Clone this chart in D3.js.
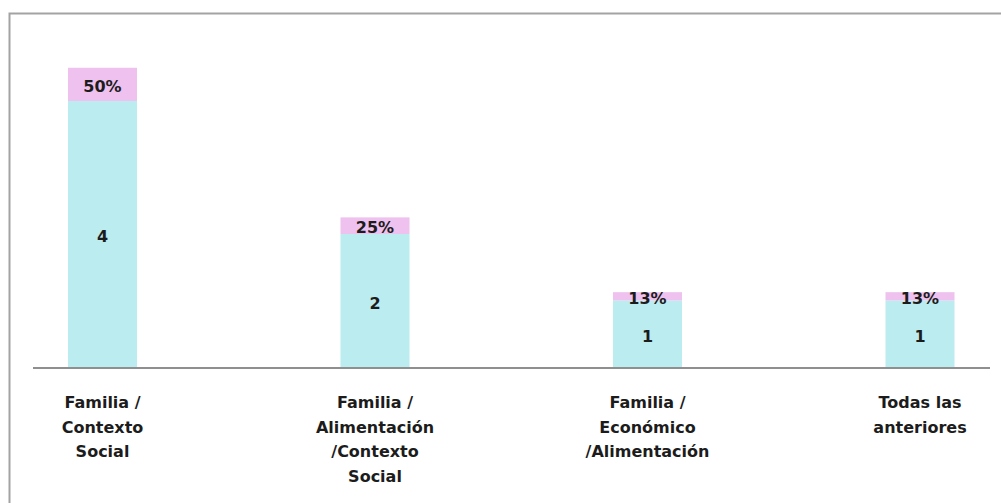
<!DOCTYPE html>
<html>
<head>
<meta charset="utf-8">
<script src="https://cdn.jsdelivr.net/npm/d3@7"></script>
<style>
  html, body { margin: 0; padding: 0; background: #ffffff; }
  svg { display: block; }
  text { font-family: "DejaVu Sans", Verdana, sans-serif; font-weight: bold; fill: #1c1c1c; }
</style>
</head>
<body>
<svg id="chart" width="1001" height="503"></svg>
<script>
// Categories (each label split into its display lines)
const categories = [
  "Familia / Contexto Social",
  "Familia / Alimentación /Contexto Social",
  "Familia / Económico /Alimentación",
  "Todas las anteriores"
];
const categoryLines = [
  ["Familia /", "Contexto", "Social"],
  ["Familia /", "Alimentación", "/Contexto", "Social"],
  ["Familia /", "Económico", "/Alimentación"],
  ["Todas las", "anteriores"]
];
// Stacked series: count of answers and share of the total
const counts = [4, 2, 1, 1];
const shares = [0.50, 0.25, 0.125, 0.125];
const shareLabels = ["50%", "25%", "13%", "13%"];

const svg = d3.select("#chart");
const W = 1001, H = 503;

// Outer frame
svg.append("rect")
  .attr("x", 9.5).attr("y", 13.5)
  .attr("width", W + 20).attr("height", H + 20)
  .attr("fill", "none")
  .attr("stroke", "#a3a3a3")
  .attr("stroke-width", 2);

const x = d3.scalePoint().domain(categories).range([102.5, 920]);
const barW = 69;
const y = d3.scaleLinear().domain([0, 4]).range([367, 101]);

const data = categories.map((c, i) => ({
  cat: c, count: counts[i], share: shares[i], label: shareLabels[i], lines: categoryLines[i]
}));

const g = svg.append("g");

// Count segment
g.selectAll("rect.count").data(data).join("rect")
  .attr("class", "count")
  .attr("x", d => x(d.cat) - barW / 2)
  .attr("width", barW)
  .attr("y", d => y(d.count))
  .attr("height", d => y(0) - y(d.count))
  .attr("fill", "#bbecf0");

// Share segment stacked on top
g.selectAll("rect.share").data(data).join("rect")
  .attr("class", "share")
  .attr("x", d => x(d.cat) - barW / 2)
  .attr("width", barW)
  .attr("y", d => y(d.count + d.share))
  .attr("height", d => y(d.count) - y(d.count + d.share))
  .attr("fill", "#eec1ee");

// Category axis line
svg.append("line")
  .attr("x1", 33).attr("x2", 990)
  .attr("y1", 368).attr("y2", 368)
  .attr("stroke", "#8f8f8f")
  .attr("stroke-width", 2);

// Value labels
g.selectAll("text.count").data(data).join("text")
  .attr("class", "count")
  .attr("x", d => x(d.cat))
  .attr("y", d => (y(0) + y(d.count)) / 2)
  .attr("dy", "0.5em")
  .attr("text-anchor", "middle")
  .attr("font-size", 16)
  .text(d => d.count);

g.selectAll("text.share").data(data).join("text")
  .attr("class", "share")
  .attr("x", d => x(d.cat))
  .attr("y", d => (y(d.count) + y(d.count + d.share)) / 2)
  .attr("dy", "0.45em")
  .attr("text-anchor", "middle")
  .attr("font-size", 16)
  .text(d => d.label);

// Category labels
const cl = svg.selectAll("text.cat").data(data).join("text")
  .attr("class", "cat")
  .attr("text-anchor", "middle")
  .attr("font-size", 16);
cl.selectAll("tspan").data(d => d.lines.map(l => ({ l, xc: x(d.cat) }))).join("tspan")
  .attr("x", t => t.xc)
  .attr("y", (t, i) => 408 + i * 24.6)
  .text(t => t.l);
</script>
</body>
</html>
